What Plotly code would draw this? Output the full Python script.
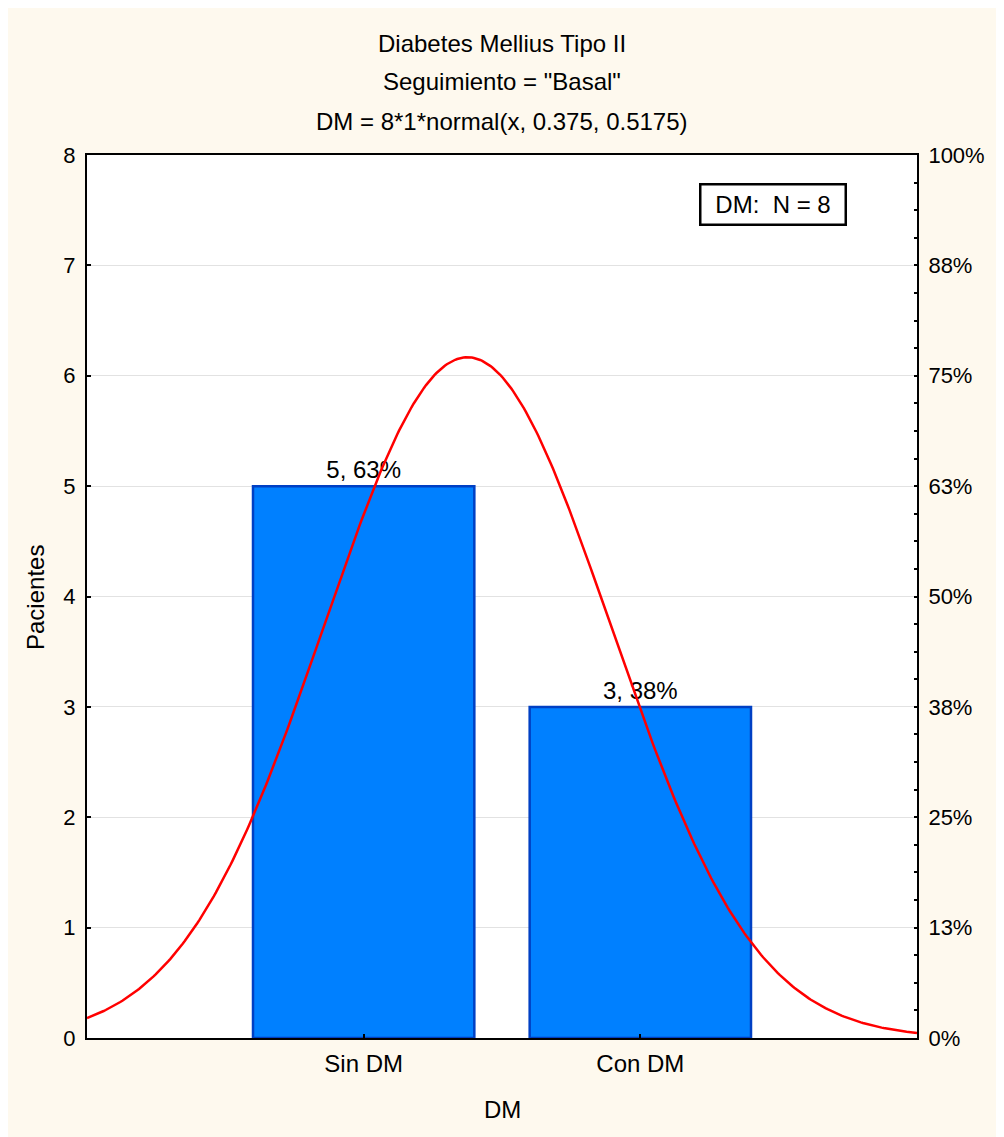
import numpy as np
import plotly.graph_objects as go

# --- Data ---
categories = ["Sin DM", "Con DM"]
counts = [5, 3]
bar_labels = ["5, 63%", "3, 38%"]
n_total = 8
fit_mean = 0.375
fit_sd = 0.5175
pct_ticks = [0, 12.5, 25, 37.5, 50, 62.5, 75, 87.5, 100]
pct_labels = ["0%", "13%", "25%", "38%", "50%", "63%", "75%", "88%", "100%"]

cream = "#FEF9EE"
family = "Liberation Sans, Arial, sans-serif"
font = dict(family=family, size=24, color="black")
tick_font = dict(family=family, size=22, color="black")

x_pos = list(range(len(categories)))

# fitted normal curve, as given in the title: N * 1 * normal(x, mean, sd)
x_curve = np.linspace(-1, 2, 400)
y_curve = n_total * 1 * np.exp(-0.5 * ((x_curve - fit_mean) / fit_sd) ** 2) / (fit_sd * np.sqrt(2 * np.pi))

# --- Build figure ---
fig = go.Figure()

fig.add_trace(go.Bar(
    x=x_pos,
    y=counts,
    width=0.8,
    marker=dict(color="#0080FF", line=dict(color="#0040C4", width=2.5)),
    text=bar_labels,
    textposition="outside",
    textfont=font,
    cliponaxis=False,
    showlegend=False,
))

fig.add_trace(go.Scatter(
    x=x_curve,
    y=y_curve,
    mode="lines",
    line=dict(color="#FF0000", width=2.5),
    showlegend=False,
))

# invisible trace so the percent axis is drawn
fig.add_trace(go.Scatter(
    x=[0], y=[0], yaxis="y2", mode="markers",
    marker=dict(opacity=0), showlegend=False, hoverinfo="skip",
))

# --- Titles ---
title_lines = ["Diabetes Mellius Tipo II", 'Seguimiento = "Basal"', "DM = 8*1*normal(x, 0.375, 0.5175)"]
title_y = [1.1268, 1.0827, 1.0374]
for txt, yy in zip(title_lines, title_y):
    fig.add_annotation(text=txt, xref="paper", yref="paper", x=0.5, y=yy,
                       showarrow=False, xanchor="center", yanchor="middle", font=font)

fig.add_annotation(text="DM", xref="paper", yref="paper", x=0.5, y=-0.0815,
                   showarrow=False, xanchor="center", yanchor="middle", font=font)
fig.add_annotation(text="Pacientes", xref="paper", yref="paper", x=-0.0627, y=0.4994,
                   showarrow=False, textangle=-90, xanchor="center", yanchor="middle", font=font)

# N box
fig.add_annotation(text="DM:&nbsp; N = 8", xref="paper", yref="paper", x=0.8265, y=0.9445,
                   showarrow=False, xanchor="center", yanchor="middle", font=font,
                   bgcolor="white", bordercolor="black", borderwidth=2.5, borderpad=0,
                   width=143, height=38)

# --- Layout ---
fig.update_layout(
    width=996,
    height=1129,
    paper_bgcolor=cream,
    plot_bgcolor="white",
    font=font,
    margin=dict(l=79, r=87, t=147, b=99),
    xaxis=dict(
        range=[-1, 2],
        tickvals=x_pos,
        ticktext=categories,
        tickfont=font,
        ticks="inside",
        ticklen=4,
        tickwidth=2,
        tickcolor="black",
        ticklabelstandoff=3,
        showline=True,
        linecolor="black",
        linewidth=2,
        mirror=True,
        showgrid=False,
        zeroline=False,
        fixedrange=True,
    ),
    yaxis=dict(
        range=[0, 8],
        dtick=1,
        tickfont=tick_font,
        ticks="inside",
        ticklen=4,
        tickwidth=2,
        tickcolor="black",
        ticklabelstandoff=5,
        showline=True,
        linecolor="black",
        linewidth=2,
        mirror=True,
        showgrid=True,
        gridcolor="#E2E2E2",
        gridwidth=1,
        zeroline=False,
    ),
    yaxis2=dict(
        overlaying="y",
        side="right",
        range=[0, 100],
        tickvals=pct_ticks,
        ticktext=pct_labels,
        tickfont=tick_font,
        ticks="inside",
        ticklen=3,
        tickwidth=2,
        tickcolor="black",
        ticklabelstandoff=5,
        minor=dict(ticks="inside", tickvals=[v / 8 for v in range(0, 801, 25)],
                   ticklen=3, tickwidth=2, tickcolor="black", showgrid=False),
        showline=True,
        linecolor="black",
        linewidth=2,
        showgrid=False,
        zeroline=False,
    ),
    bargap=0.2,
)

fig.write_html("out.html")
